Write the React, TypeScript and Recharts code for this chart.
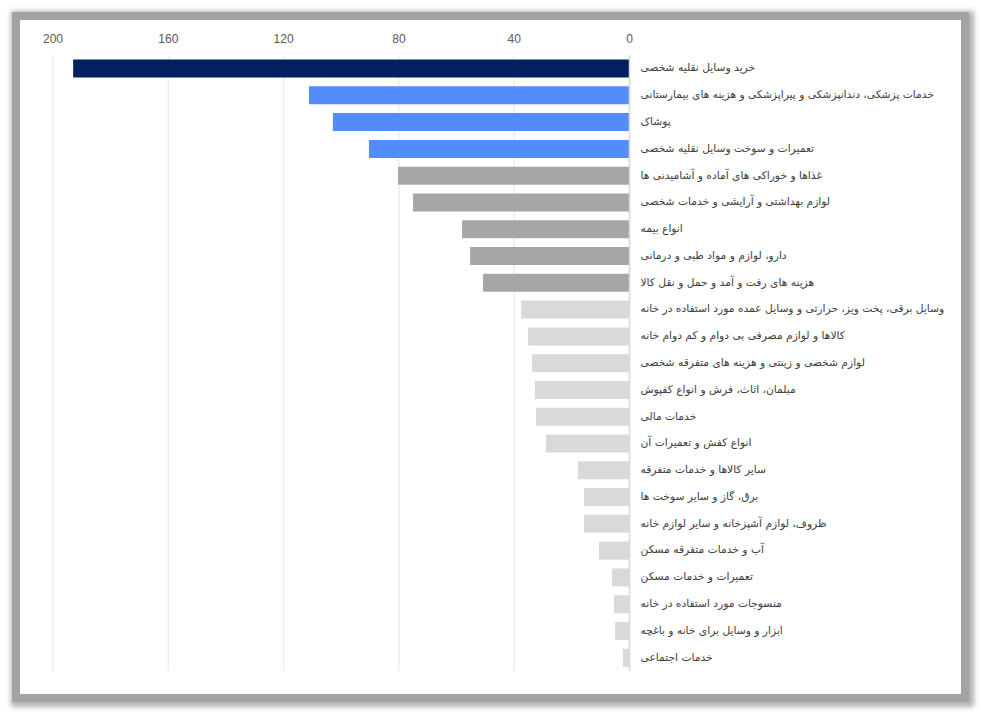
import { Bar, BarChart, CartesianGrid, Cell, XAxis, YAxis } from "recharts";

const categories = [
  "خرید وسایل نقلیه شخصی",
  "خدمات پزشکی، دندانپزشکی و پیراپزشکی و هزینه های بیمارستانی",
  "پوشاک",
  "تعمیرات و سوخت وسایل نقلیه شخصی",
  "غذاها و خوراکی های آماده و آشامیدنی ها",
  "لوازم بهداشتی و آرایشی و خدمات شخصی",
  "انواع بیمه",
  "دارو، لوازم و مواد طبی و درمانی",
  "هزینه های رفت و آمد و حمل و نقل کالا",
  "وسایل برقی، پخت ویز، حرارتی و وسایل عمده مورد استفاده در خانه",
  "کالاها و لوازم مصرفی بی دوام و کم دوام خانه",
  "لوازم شخصی و زینتی و هزینه های متفرقه شخصی",
  "مبلمان، اثاث، فرش و انواع کفپوش",
  "خدمات مالی",
  "انواع کفش و تعمیرات آن",
  "سایر کالاها و خدمات متفرقه",
  "برق، گاز و سایر سوخت ها",
  "ظروف، لوازم آشپزخانه و سایر لوازم خانه",
  "آب و خدمات متفرقه مسکن",
  "تعمیرات و خدمات مسکن",
  "منسوجات مورد استفاده در خانه",
  "ابزار و وسایل برای خانه و باغچه",
  "خدمات اجتماعی",
];

const values = [
  193.0, 111.2, 102.9, 90.4, 80.3, 75.1, 58.1, 55.3, 50.8, 37.6, 35.2, 33.8,
  32.8, 32.4, 29.0, 17.9, 15.8, 15.8, 10.6, 6.1, 5.4, 5.0, 2.3,
];

const xTicks = [0, 40, 80, 120, 160, 200];

// rank groups: top item, next three, next five, the rest
const fillFor = (i: number) =>
  i < 1 ? "#002060" : i < 4 ? "#528cff" : i < 9 ? "#a6a6a6" : "#d9d9d9";

const data = categories.map((name, i) => ({ name, value: values[i] }));

function CategoryTick(props: any) {
  const { x, y, payload } = props;
  return (
    <text
      x={x + 3}
      y={y}
      dy={3}
      textAnchor="start"
      fontSize={10.7}
      fontFamily="'DejaVu Sans', sans-serif"
      fill="#404040"
    >
      {payload.value}
    </text>
  );
}

export default function App() {
  return (
    <div
      style={{
        position: "absolute",
        left: 12,
        top: 12,
        width: 941,
        height: 674,
        border: "8px solid #a3a3a3",
        boxShadow: "2px 2px 5px 3px rgba(0,0,0,0.3)",
        background: "#fff",
      }}
    >
      <BarChart
        width={941}
        height={674}
        data={data}
        layout="vertical"
        margin={{ top: 10, right: 0, left: 33, bottom: 23 }}
        barCategoryGap="17%"
      >
        <CartesianGrid horizontal={false} stroke="#eeeeee" strokeWidth={1.5} />
        <XAxis
          type="number"
          orientation="top"
          domain={[0, 200]}
          ticks={xTicks}
          reversed
          height={25}
          axisLine={false}
          tickLine={false}
          tickMargin={6}
          tick={{ fontSize: 12, fill: "#595959", fontFamily: "'Liberation Sans Narrow', 'Liberation Sans', sans-serif" }}
        />
        <YAxis
          type="category"
          dataKey="name"
          orientation="right"
          width={331.5}
          axisLine={{ stroke: "#d9d9d9", strokeWidth: 1.5 }}
          tickLine={false}
          interval={0}
          tick={<CategoryTick />}
        />
        <Bar dataKey="value" isAnimationActive={false}>
          {data.map((d, i) => (
            <Cell key={d.name} fill={fillFor(i)} />
          ))}
        </Bar>
      </BarChart>
    </div>
  );
}
